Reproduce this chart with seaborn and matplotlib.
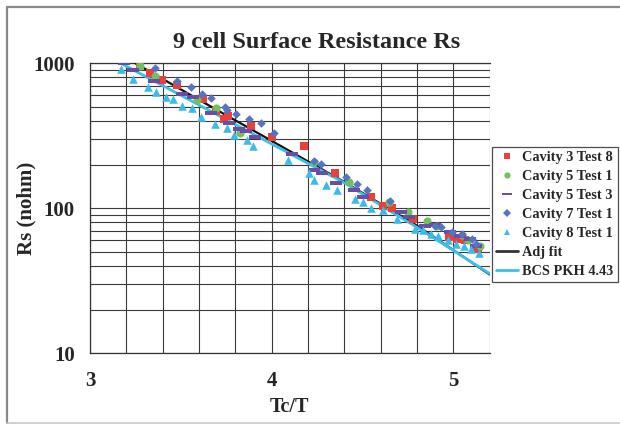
import numpy as np
import pandas as pd
import matplotlib
matplotlib.use("Agg")
import matplotlib.pyplot as plt
from matplotlib.lines import Line2D
from matplotlib.path import Path
from matplotlib.ticker import FixedLocator, NullFormatter, MultipleLocator
import seaborn as sns

# ---- measured surface resistance, Rs (nOhm) vs reduced temperature Tc/T ----
cav3_t8_x = [3.276, 3.333, 3.396, 3.477, 3.625, 3.696, 3.740, 3.760, 3.884, 4.005,
             4.177, 4.347, 4.550, 4.615, 4.661, 4.780, 4.976, 5.022, 5.065, 5.118, 5.137]
cav3_t8_y = [990, 863, 767, 704, 565, 472, 413, 434, 370, 312,
             270, 176, 119, 104, 100, 84, 63, 61, 60, 52, 53]

cav5_t1_x = [3.276, 3.357, 3.588, 3.696, 3.827, 4.234, 4.425, 4.647, 4.750, 4.854,
             4.909, 5.046, 5.083, 5.148]
cav5_t1_y = [963, 818, 559, 490, 329, 210, 153, 110, 94, 82,
             76, 65, 60.5, 55]

cav5_t3_x = [3.189, 3.239, 3.353, 3.505, 3.566, 3.668, 3.766, 3.821, 3.857, 3.907,
             4.114, 4.234, 4.277, 4.354, 4.452, 4.506, 4.713, 4.756, 4.843, 4.898,
             4.985, 5.039, 5.094, 5.126]
cav5_t3_y = [1000, 900, 759, 615, 583, 457, 390, 351, 342, 312,
             237, 184, 174, 150, 134, 120, 94, 87, 76, 77,
             69, 64, 61, 55]

cav7_t1_x = [3.357, 3.477, 3.555, 3.618, 3.666, 3.744, 3.755, 3.805, 3.875, 3.940,
             4.014, 4.234, 4.271, 4.408, 4.469, 4.528, 4.654, 4.898, 4.935, 4.991,
             5.046, 5.104, 5.126]
cav7_t1_y = [933, 755, 683, 615, 574, 497, 477, 447, 411, 386,
             329, 212, 202, 165, 147, 134, 112, 75, 74, 69,
             66, 61, 57]

cav8_t1_x = [3.168, 3.239, 3.320, 3.363, 3.418, 3.455, 3.505, 3.561, 3.614, 3.690,
             3.755, 3.792, 3.864, 3.897, 4.092, 4.208, 4.234, 4.299, 4.360, 4.458,
             4.502, 4.550, 4.615, 4.691, 4.789, 4.832, 4.876, 4.915, 4.974, 5.017,
             5.061, 5.098, 5.141]
cav8_t1_y = [910, 776, 691, 638, 583, 565, 508, 490, 425, 382,
             357, 321, 296, 270, 215, 176, 157, 145, 134, 115,
             111, 100, 97.5, 85, 72, 71, 67, 64, 60, 57,
             55, 52, 49]

# ---- fit curves ----
adj_fit_x = [3.25, 3.6, 4.0, 4.4, 4.8, 5.2]
adj_fit_y = [1000, 560, 292, 152, 76, 35]

bcs_x = [3.17, 3.6, 4.0, 4.4, 4.8, 5.2]
bcs_y = [1000, 516, 278, 150, 74, 35.5]

series_labels = ["Cavity 3 Test 8", "Cavity 5 Test 1", "Cavity 5 Test 3",
                 "Cavity 7 Test 1", "Cavity 8 Test 1"]
line_labels = ["Adj fit", "BCS PKH 4.43"]

sns.set_theme(style="white")
plt.rcParams["font.family"] = ["Liberation Serif", "DejaVu Serif"]
plt.rcParams["font.weight"] = "bold"

W, H = 620, 424
fig = plt.figure(figsize=(W / 100, H / 100), dpi=100)
fig.patch.set_facecolor("white")
ax = fig.add_axes([90 / W, 1 - 353.3 / H, 399.5 / W, 290 / H])
ax.set_facecolor("white")

# figure frame
fig.add_artist(Line2D([6.7 / W, 1.0], [1 - 6.7 / H] * 2, transform=fig.transFigure,
                      color="#8a8a8a", lw=1.6))
fig.add_artist(Line2D([6.7 / W] * 2, [1 - 6.7 / H, 1 - 422.7 / H], transform=fig.transFigure,
                      color="#8a8a8a", lw=1.6))
fig.add_artist(Line2D([6.7 / W, 1.0], [1 - 422.7 / H] * 2, transform=fig.transFigure,
                      color="#c8c8c8", lw=1.2))

dash = Path([(-1, -0.3), (1, -0.3), (1, 0.3), (-1, 0.3), (-1, -0.3)],
            [Path.MOVETO, Path.LINETO, Path.LINETO, Path.LINETO, Path.CLOSEPOLY])

styles = [
    (cav3_t8_x, cav3_t8_y, "s", "#e8403a", 32),
    (cav5_t1_x, cav5_t1_y, "o", "#72c05a", 34),
    (cav5_t3_x, cav5_t3_y, dash, "#6a4ea6", 64),
    (cav7_t1_x, cav7_t1_y, "D", "#5673c4", 19),
    (cav8_t1_x, cav8_t1_y, "^", "#3dbbe8", 38),
]

handles = []
for (xs, ys, mk, col, s), lab in zip(styles, series_labels):
    df = pd.DataFrame({"x": xs, "y": ys})
    sns.scatterplot(data=df, x="x", y="y", marker=mk, color=col, s=s,
                    linewidth=0, ax=ax, zorder=4, legend=False)
    handles.append(Line2D([], [], ls="none", marker=mk,
                          color=col, markersize=4.5 if mk is not dash else 6.5,
                          markeredgewidth=0, label=lab))

sns.lineplot(x=adj_fit_x, y=adj_fit_y, color="#111111", lw=1.6, ax=ax, zorder=3)
sns.lineplot(x=bcs_x, y=bcs_y, color="#3cc0ea", lw=2.0, ax=ax, zorder=3)
handles.append(Line2D([], [], color="#333333", lw=2.0, label=line_labels[0]))
handles.append(Line2D([], [], color="#3cc0ea", lw=2.0, label=line_labels[1]))

ax.set_yscale("log")
ax.set_ylim(10, 1000)
ax.set_xlim(3, 5.2)
ax.yaxis.set_major_locator(FixedLocator([10, 100, 1000]))
ax.set_yticklabels(["10", "100", "1000"])
ax.yaxis.set_minor_locator(FixedLocator([20, 30, 40, 50, 60, 70, 80, 90,
                                         200, 300, 400, 500, 600, 700, 800, 900]))
ax.yaxis.set_minor_formatter(NullFormatter())
ax.xaxis.set_major_locator(FixedLocator([3, 4, 5]))
ax.set_xticklabels(["3", "4", "5"])
ax.xaxis.set_minor_locator(MultipleLocator(0.2))

ax.grid(True, which="both", color="#3a3a3a", lw=0.8)
ax.set_axisbelow(True)
ax.spines["right"].set_visible(False)
for side in ["left", "bottom", "top"]:
    ax.spines[side].set_color("#333333")
    ax.spines[side].set_linewidth(0.9)

ax.tick_params(axis="both", which="major", direction="out", length=5, width=1,
               color="#333333", labelsize=15)
ax.tick_params(axis="x", which="major", pad=8)
ax.tick_params(axis="y", which="major", pad=6)
ax.tick_params(axis="both", which="minor", length=0)
for t in ax.get_xticklabels() + ax.get_yticklabels():
    t.set_fontweight("bold")

ax.set_xlabel("Tc/T", fontsize=14.5, fontweight="bold")
ax.set_ylabel("Rs (nohm)", fontsize=15, fontweight="bold")
ax.xaxis.set_label_coords(0.498, -0.152)
ax.yaxis.set_label_coords(-0.135, 0.50)

fig.text(317 / W, 1 - 42 / H, "9 cell Surface Resistance Rs", ha="center", va="center",
         fontsize=17.5, fontweight="bold")

leg = fig.legend(handles=handles, loc="upper left",
                 bbox_to_anchor=(492 / W, 1 - 146.5 / H),
                 prop={"family": "Liberation Serif", "weight": "bold", "size": 10.3},
                 frameon=True, fancybox=False, edgecolor="#222222",
                 handlelength=1.5, handletextpad=0.3, borderpad=0.3,
                 borderaxespad=0, labelspacing=0.42)
leg.get_frame().set_linewidth(0.9)

fig.savefig("out.png", dpi=100, facecolor="white")
